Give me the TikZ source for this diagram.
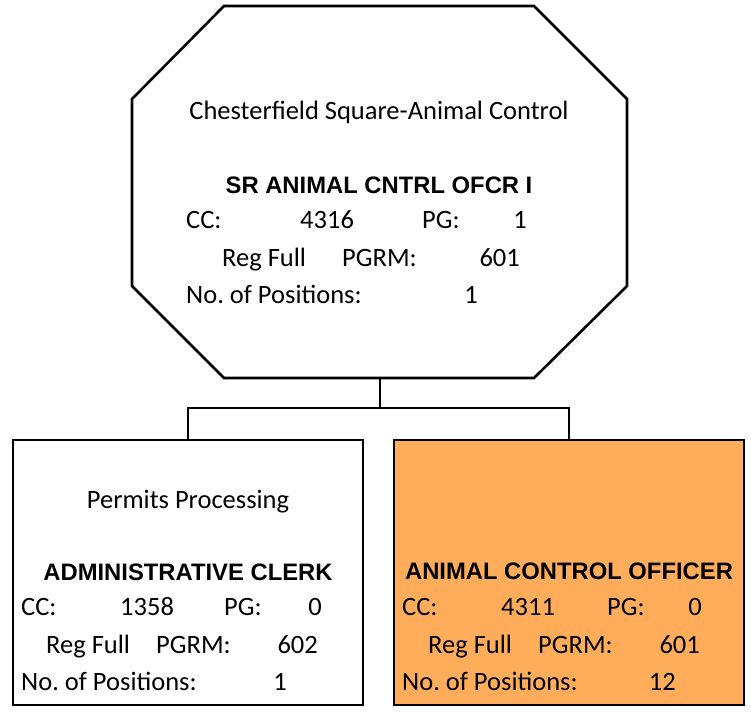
\documentclass[tikz,border=0pt]{standalone}
\usepackage{fontspec}
\setmainfont{Carlito}
\newfontfamily\arialfont{Liberation Sans}
\frenchspacing
\definecolor{orangefill}{RGB}{255,173,91}
\tikzset{
  shapeline/.style={draw=black, line width=2.6pt, line join=miter},
  txt/.style={inner sep=0pt, font=\fontsize{26.5}{30}\selectfont},
  ttl/.style={inner sep=0pt, font=\arialfont\bfseries\fontsize{23.8}{28}\selectfont},
  link/.style={draw=black, line width=2.6pt},
}
\begin{document}
\begin{tikzpicture}[x=1pt,y=-1pt]
\useasboundingbox (0,0) rectangle (751,712);
% octagon
\draw[shapeline, fill=white] (224,6) -- (534,6) -- (627,99) -- (627,286) -- (534,378) -- (224,378) -- (132,286) -- (132,99) -- cycle;
\coordinate (top) at (380,378);
% boxes
\node[shapeline, fill=white, minimum width=350pt, minimum height=265pt, inner sep=0pt] (adm) at (188,572.5) {};
\node[shapeline, fill=orangefill, minimum width=350pt, minimum height=265pt, inner sep=0pt] (aco) at (569,572.5) {};
% connectors
\coordinate (mid) at (380,408);
\draw[link] (top) -- (mid);
\draw[link] (adm.north) |- (mid) -| (aco.north);
% octagon texts
\node[txt, anchor=base] (o1) at (379,119) {Chesterfield Square-Animal Control};
\node[ttl, anchor=base] (o2) at (379,193) {SR ANIMAL CNTRL OFCR I};
\node[txt, anchor=base west] (o3) at (186,228) {CC:};
\node[txt, anchor=base west] (o4) at (300,228) {4316};
\node[txt, anchor=base west] (o5) at (422,228) {PG:};
\node[txt, anchor=base east] (o6) at (527,228) {1};
\node[txt, anchor=base west] (o7) at (222,266) {Reg Full};
\node[txt, anchor=base west] (o8) at (342,266) {PGRM:};
\node[txt, anchor=base east] (o9) at (520,266) {601};
\node[txt, anchor=base west] (o10) at (186,303) {No. of Positions:};
\node[txt, anchor=base east] (o11) at (478,303) {1};
% left box texts
\node[txt, anchor=base] (a1) at (188,508) {Permits Processing};
\node[ttl, anchor=base] (a2) at (188,580) {ADMINISTRATIVE CLERK};
\node[txt, anchor=base west] (a3) at (21,615) {CC:};
\node[txt, anchor=base west] (a4) at (120,615) {1358};
\node[txt, anchor=base west] (a5) at (224,615) {PG:};
\node[txt, anchor=base east] (a6) at (322,615) {0};
\node[txt, anchor=base west] (a7) at (46,653) {Reg Full};
\node[txt, anchor=base west] (a8) at (156,653) {PGRM:};
\node[txt, anchor=base east] (a9) at (318,653) {602};
\node[txt, anchor=base west] (a10) at (21,690) {No. of Positions:};
\node[txt, anchor=base east] (a11) at (287,690) {1};
% right box texts
\node[ttl, anchor=base] (b2) at (569,579) {ANIMAL CONTROL OFFICER};
\node[txt, anchor=base west] (b3) at (402,615) {CC:};
\node[txt, anchor=base west] (b4) at (501,615) {4311};
\node[txt, anchor=base west] (b5) at (607,615) {PG:};
\node[txt, anchor=base east] (b6) at (702,615) {0};
\node[txt, anchor=base west] (b7) at (428,653) {Reg Full};
\node[txt, anchor=base west] (b8) at (538,653) {PGRM:};
\node[txt, anchor=base east] (b9) at (700,653) {601};
\node[txt, anchor=base west] (b10) at (402,690) {No. of Positions:};
\node[txt, anchor=base east] (b11) at (676,690) {12};
\end{tikzpicture}
\end{document}
